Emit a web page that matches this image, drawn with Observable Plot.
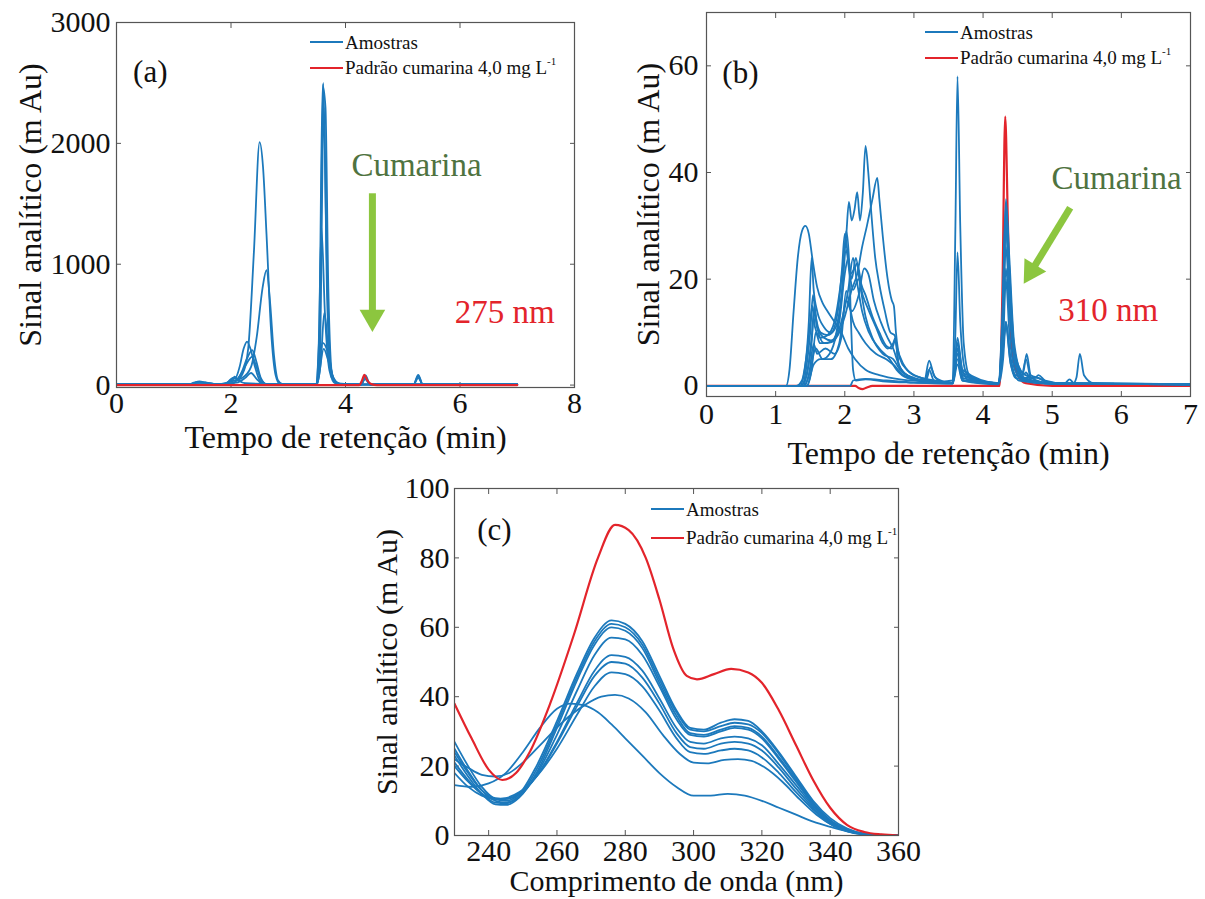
<!DOCTYPE html>
<html><head><meta charset="utf-8">
<script src="https://cdn.jsdelivr.net/npm/d3@7"></script>
<script src="https://cdn.jsdelivr.net/npm/@observablehq/plot@0.6"></script>
<style>
body{margin:0;background:#fff;}
#wrap{position:relative;width:1205px;height:899px;overflow:hidden;background:#fff;font-family:"Liberation Serif","Times New Roman",serif;color:#111;}
.panel{position:absolute;}
.panel text{font-family:"Liberation Serif","Times New Roman",serif !important;}
.leg{position:absolute;display:flex;align-items:center;font-size:19px;line-height:1;white-space:nowrap;}
.leg .sw{display:inline-block;width:33px;height:0;border-top:2.5px solid;margin-right:2px;}
.leg sup{font-size:11px;position:relative;top:-2px;}
</style></head><body><div id="wrap"></div>
<script>
// ---------- colours & font ----------
const blue = "#1c79bc", red = "#e3242b", arrowGreen = "#8cc63f", textGreen = "#4f7340", frameColor = "#555";
const FONT = "Liberation Serif, Times New Roman, serif";

// ---------- ticks & labels ----------
const aXTicks = [0, 2, 4, 6, 8], aYTicks = [0, 1000, 2000, 3000];
const bXTicks = [0, 1, 2, 3, 4, 5, 6, 7], bYTicks = [0, 20, 40, 60];
const cXTicks = [240, 260, 280, 300, 320, 340, 360], cYTicks = [0, 20, 40, 60, 80, 100];
const timeLabel = "Tempo de retenção (min)";
const waveLabel = "Comprimento de onda (nm)";
const signalLabel = "Sinal analítico (m Au)";
const legendSamples = "Amostras";
const legendStandard = "Padrão cumarina 4,0 mg L";

// ---------- panel (a): chromatograms at 275 nm ----------
const aSamples = [
  [[0,5],[1.25,5],[1.35,20],[1.45,30],[1.55,22],[1.7,10],[1.9,8],[2.0,40],[2.08,35],[2.2,90],[2.3,300],[2.4,1100],[2.5,2010],[2.56,1800],[2.62,1250],[2.7,450],[2.78,80],[2.85,10],[3.48,5],[3.54,200],[3.61,2500],[3.67,1100],[3.74,150],[3.85,15],[4.0,5],[4.27,5],[4.34,60],[4.43,5],[5.19,5],[5.27,75],[5.35,5],[7,5]],
  [[0,5],[1.3,5],[1.45,25],[1.6,15],[1.8,8],[2.0,30],[2.2,60],[2.35,150],[2.45,400],[2.55,800],[2.62,950],[2.68,700],[2.75,250],[2.82,40],[2.9,8],[3.48,5],[3.54,400],[3.6,2480],[3.65,2300],[3.7,800],[3.77,80],[3.9,10],[4.27,5],[4.35,80],[4.43,5],[5.19,5],[5.27,85],[5.35,5],[7,5]],
  [[0,5],[1.9,5],[2.0,50],[2.08,60],[2.15,150],[2.22,300],[2.28,360],[2.34,300],[2.42,150],[2.5,40],[2.6,8],[3.48,5],[3.55,200],[3.62,2300],[3.68,700],[3.76,60],[3.9,8],[4.27,5],[4.34,50],[4.43,5],[7,5]],
  [[0,5],[1.95,5],[2.03,60],[2.1,50],[2.18,100],[2.28,220],[2.37,290],[2.44,200],[2.52,60],[2.62,8],[3.48,5],[3.53,300],[3.58,1300],[3.64,600],[3.72,120],[3.82,15],[4.27,5],[4.35,60],[4.43,5],[7,5]],
  [[0,5],[2.0,5],[2.1,40],[2.2,110],[2.3,200],[2.37,235],[2.43,170],[2.52,50],[2.62,8],[3.5,5],[3.57,200],[3.63,600],[3.7,300],[3.79,50],[3.92,5],[7,5]],
  [[0,5],[2.0,5],[2.06,70],[2.13,40],[2.25,15],[3.5,5],[3.6,350],[3.67,300],[3.75,100],[3.86,15],[4.0,5],[7,5]],
  [[0,5],[1.3,5],[1.4,25],[1.55,20],[1.75,8],[2.1,20],[2.25,60],[2.35,100],[2.45,50],[2.55,10],[3.5,5],[3.62,300],[3.7,200],[3.8,40],[3.95,5],[5.19,5],[5.27,60],[5.35,5],[7,5]]
];
const aStandard = [[0,0],[4.24,0],[4.29,40],[4.33,85],[4.38,40],[4.45,8],[4.55,0],[7,0]];
const aNotes = [
  {x: 0.59, y: 2587, text: "(a)", color: "#111", size: 31},
  {x: 5.24, y: 1818, text: "Cumarina", color: textGreen, size: 33},
  {x: 6.78, y: 603, text: "275 nm", color: red, size: 33}
];
const aArrow = [{x1: 4.47, y1: 1587, x2: 4.47, y2: 562, rotate: 180}];

// ---------- panel (b): chromatograms at 310 nm ----------
const bSamples = [
  [[0,0],[1.15,0],[1.2,3],[1.26,14],[1.32,24],[1.38,29],[1.43,30],[1.48,28.5],[1.53,24],[1.6,18.5],[1.68,15.5],[1.75,14],[1.85,12],[1.95,10],[2.05,7],[2.15,5],[2.3,3],[2.5,2],[2.8,1.2],[3.2,0.8],[3.56,0.5],[3.63,6],[3.72,1],[4.22,0.5],[4.29,8],[4.33,11],[4.4,4],[4.52,1],[5.0,0.4],[5.3,0.4],[5.35,1.5],[5.4,6],[5.46,2],[5.6,0.5],[7,0.3]],
  [[0,0],[1.3,0],[1.38,1],[1.45,6],[1.5,12],[1.53,15],[1.57,11],[1.65,9],[1.75,9.5],[1.85,12],[1.95,20],[2.02,28],[2.06,34.5],[2.1,31],[2.14,33],[2.18,36.3],[2.22,31],[2.26,36],[2.3,45],[2.34,40],[2.38,33],[2.44,24],[2.5,19],[2.58,14],[2.66,10],[2.72,9.5],[2.76,7],[2.85,4],[3.0,2],[3.3,1],[3.55,0.5],[3.6,10],[3.63,25],[3.67,12],[3.74,3],[3.85,1],[4.22,0.5],[4.28,12],[4.33,34],[4.38,22],[4.45,7],[4.54,3],[4.58,2.5],[4.63,6],[4.69,2],[4.8,1.5],[5.0,0.5],[7,0.3]],
  [[0,0],[1.35,0],[1.45,2],[1.52,9],[1.56,14],[1.6,11],[1.7,9],[1.8,8.5],[1.9,9.5],[2.0,13],[2.1,18],[2.18,21],[2.25,26],[2.32,30],[2.4,35],[2.47,39],[2.5,35],[2.55,28],[2.62,20],[2.68,16],[2.71,15],[2.74,10],[2.8,5],[2.9,3],[3.1,1.5],[3.4,0.8],[3.56,1],[3.6,30],[3.63,58],[3.67,30],[3.72,8],[3.8,2],[4.0,0.8],[4.22,0.5],[4.28,14],[4.33,35],[4.38,24],[4.45,8],[4.56,2.5],[4.75,1.5],[4.8,2],[4.9,1],[5.2,0.4],[7,0.3]],
  [[0,0],[1.35,0],[1.42,3],[1.48,12],[1.52,24],[1.55,18],[1.6,14],[1.7,11],[1.8,10],[1.9,14],[1.96,22],[2.0,28.5],[2.04,25],[2.08,21],[2.14,22],[2.18,23],[2.24,19],[2.3,17],[2.4,13],[2.5,10],[2.6,7.5],[2.68,7],[2.73,8.5],[2.78,4],[2.9,2],[3.1,1],[3.56,0.5],[3.63,7],[3.7,2],[4.22,0.5],[4.28,10],[4.33,30],[4.38,18],[4.46,5],[4.6,1.5],[5.0,0.4],[7,0.3]],
  [[0,0],[1.38,0],[1.45,4],[1.5,10],[1.54,17],[1.58,13],[1.65,10],[1.75,9.5],[1.85,10.5],[1.95,16],[2.02,25.5],[2.06,22],[2.12,18],[2.2,20],[2.26,17],[2.35,14],[2.45,11],[2.55,8],[2.62,7],[2.7,8],[2.73,9],[2.78,4],[2.9,2],[3.15,1],[3.22,4.7],[3.29,2],[3.4,0.8],[3.56,0.5],[3.63,8],[3.7,3],[3.8,1],[4.22,0.5],[4.28,12],[4.33,32],[4.38,20],[4.46,6],[4.58,2],[4.62,2.5],[4.7,1],[5.0,0.4],[7,0.3]],
  [[0,0],[1.4,0],[1.46,3],[1.52,8],[1.56,15],[1.6,11],[1.7,8],[1.82,8.5],[1.92,12],[2.0,21],[2.05,24],[2.1,20],[2.16,24],[2.22,19],[2.3,13],[2.4,9],[2.55,6],[2.7,5],[2.8,3],[3.0,1.5],[3.3,0.8],[3.56,0.5],[3.63,7],[3.7,2],[4.22,0.5],[4.28,8],[4.33,22],[4.38,14],[4.46,4],[4.6,1.2],[5.0,0.4],[7,0.3]],
  [[0,0],[1.4,0],[1.48,2],[1.55,7.8],[1.6,6],[1.72,7],[1.85,6],[1.95,9],[2.02,17.8],[2.07,15],[2.12,12],[2.2,10],[2.3,8],[2.45,6],[2.6,5],[2.7,4],[2.85,2],[3.1,1],[3.18,1.2],[3.24,3.5],[3.31,1.5],[3.56,0.5],[3.63,8],[3.7,2.5],[4.22,0.5],[4.28,9],[4.33,26],[4.38,16],[4.46,5],[4.56,2],[4.62,5],[4.69,1.5],[5.0,0.4],[7,0.3]],
  [[0,0],[1.45,0],[1.52,3],[1.58,10],[1.64,8],[1.75,8],[1.85,8.5],[1.95,12],[2.05,18],[2.12,24],[2.17,20],[2.25,14],[2.35,10],[2.5,7],[2.65,5],[2.75,3],[2.9,1.5],[3.2,0.8],[3.56,0.5],[3.63,6],[3.7,1.5],[4.22,0.5],[4.29,7],[4.33,12],[4.39,6],[4.47,2],[5.0,0.4],[7,0.3]],
  [[0,0],[1.42,0],[1.5,3],[1.58,7],[1.68,5],[1.78,6],[1.88,10],[1.96,18],[2.02,29],[2.06,24],[2.09,12],[2.12,3],[2.16,1],[2.3,1.2],[2.6,0.8],[3.0,0.6],[3.56,0.4],[3.63,5],[3.7,1],[4.22,0.4],[4.29,8],[4.33,20],[4.38,10],[4.46,3],[4.6,1],[5.0,0.4],[7,0.3]],
  [[0,0],[2.08,0],[2.12,1],[2.3,1.3],[2.6,1],[3.0,0.6],[3.56,0.4],[3.63,4],[3.7,1],[4.22,0.3],[4.29,5],[4.33,12],[4.39,5],[4.47,1.5],[5.18,0.5],[5.25,1.2],[5.32,0.5],[7,0.3]],
  [[0,0],[1.45,0],[1.55,4],[1.65,5],[1.8,5],[1.92,8],[2.02,16],[2.1,14],[2.2,17],[2.28,22],[2.34,21],[2.42,16],[2.52,12],[2.62,9],[2.7,7],[2.78,4],[2.9,2],[3.15,1],[3.22,3],[3.29,1],[3.56,0.5],[3.63,9],[3.7,3],[4.22,0.5],[4.28,10],[4.33,30],[4.38,18],[4.46,5],[4.6,1.5],[4.78,1.5],[4.9,0.8],[5.2,0.4],[7,0.3]]
];
const bStandard = [[0,0],[1.45,0],[2.15,0],[2.2,-0.4],[2.26,-0.6],[2.32,-0.3],[2.4,0],[4.24,0],[4.28,18],[4.32,50.5],[4.36,30],[4.41,8],[4.5,2],[4.62,0.5],[5,0],[7,0]];
const bNotes = [
  {x: 0.49, y: 58.7, text: "(b)", color: "#111", size: 31},
  {x: 5.93, y: 38.8, text: "Cumarina", color: textGreen, size: 33},
  {x: 5.81, y: 14.1, text: "310 nm", color: red, size: 33}
];
const bArrow = [{x1: 5.26, y1: 33.4, x2: 4.70, y2: 21.5, rotate: 211.7}];

// ---------- panel (c): UV spectra ----------
const cSamples = [
  [[230,27],[234,20],[238,14],[242,10.5],[245,10],[249,12],[254,20],[260,33],[266,47],[271,57],[276,62],[280,61],[285,56],[290,46],[295,36],[299,31],[303,30.5],[308,32.5],[312,33.5],[316,33],[320,30],[325,24],[330,17],[335,10],[340,5],[345,2],[350,0.5],[355,0.1],[360,0]],
  [[230,25],[234,18.5],[238,13],[242,10],[245,9.5],[249,11.5],[254,19],[260,32],[266,46],[271,56],[276,61],[280,60],[285,55],[290,45],[295,35.5],[299,30.5],[303,30],[308,31.5],[312,32.5],[316,32],[320,29.5],[325,23.5],[330,16.5],[335,9.5],[340,4.5],[345,1.8],[350,0.5],[355,0.1],[360,0]],
  [[230,23],[234,17],[238,12],[242,9],[245,8.8],[249,11],[254,18],[260,31],[266,45],[271,55],[276,60],[280,59],[285,54],[290,44],[295,34.5],[299,29.5],[303,29],[308,30.5],[312,31.5],[316,31],[320,28.5],[325,22.5],[330,16],[335,9],[340,4.2],[345,1.6],[350,0.4],[355,0.1],[360,0]],
  [[230,21],[234,16],[238,12],[242,9.5],[245,9.3],[249,11.2],[254,17.5],[260,29],[266,42],[271,52],[276,57],[280,56.5],[285,52],[290,43],[295,33.5],[299,29],[303,28.5],[308,30],[312,31],[316,30.5],[320,28],[325,22],[330,15.5],[335,9],[340,4],[345,1.5],[350,0.4],[355,0.1],[360,0]],
  [[230,20],[234,15.5],[238,12],[242,10.5],[245,10.5],[249,12],[254,17],[260,27],[266,38.5],[271,47.5],[276,52],[280,51.5],[285,47.5],[290,39.5],[295,31],[299,27],[303,26.5],[308,28],[312,28.5],[316,28],[320,26],[325,20.5],[330,14.5],[335,8.5],[340,3.8],[345,1.4],[350,0.4],[355,0.1],[360,0]],
  [[230,24],[234,18],[238,13],[242,10.8],[245,10.6],[249,12],[254,17],[260,26.5],[266,37.5],[271,46],[276,50],[280,49.5],[285,45.5],[290,38],[295,29.5],[299,25.5],[303,25],[308,26.5],[312,27],[316,26.5],[320,24.5],[325,19.5],[330,13.5],[335,8],[340,3.5],[345,1.3],[350,0.4],[355,0.1],[360,0]],
  [[230,18],[234,14],[238,11.5],[242,10.5],[245,10.8],[249,12.5],[254,17],[260,25],[266,35],[271,43],[276,47],[280,46.5],[285,43],[290,36],[295,28],[299,24],[303,23.5],[308,24.5],[312,25],[316,24.5],[320,22.5],[325,18],[330,12.5],[335,7.5],[340,3.3],[345,1.2],[350,0.3],[355,0.1],[360,0]],
  [[230,22],[234,19.5],[238,17.5],[242,17],[246,18],[250,21],[256,27],[262,33],[268,37.5],[273,40],[277,40.5],[281,39.5],[286,35.5],[291,29],[296,23.5],[300,21],[304,20.8],[309,21.8],[313,22],[317,21.5],[321,19.5],[326,15.5],[331,10.5],[336,6],[341,2.8],[346,1],[351,0.3],[360,0]],
  [[230,14.5],[235,14],[240,15],[245,18],[250,24],[255,31],[260,36.5],[264,38],[268,37.5],[272,35.5],[276,32],[280,28],[285,23],[290,18],[295,14],[300,11.5],[305,11.5],[310,12],[315,11.5],[320,10],[325,8],[330,6],[335,4],[340,2.5],[345,1.2],[350,0.5],[360,0]]
];
const cStandard = [[230,38],[235,28],[240,19],[244,16],[248,18],[252,24],[258,38],[265,58],[272,80],[277,89.5],[281,88],[286,80],[290,68],[294,54],[298,46],[301,45],[306,46.5],[311,48],[316,47],[320,44],[325,36],[330,26],[335,16],[340,8],[345,3],[350,1],[355,0.3],[360,0]];
const cNotes = [{x: 241.7, y: 87.9, text: "(c)", color: "#111", size: 31}];

// ---------- helpers ----------
const tidy = (series) => series.flatMap((pts, i) => pts.map(([x, y]) => ({x, y, id: i})));
const pts = (arr) => arr.map(([x, y]) => ({x, y}));

function makePanel(cfg) {
  const sampleMark = Plot.line(tidy(cfg.samples), {x: "x", y: "y", z: "id", stroke: blue, strokeWidth: 1.8, curve: cfg.curve, clip: true});
  const standardMark = Plot.line(pts(cfg.standard), {x: "x", y: "y", stroke: red, strokeWidth: 2.2, curve: cfg.curve, clip: true});
  const lines = cfg.redOnTop ? [sampleMark, standardMark] : [standardMark, sampleMark];
  const txt = {fontFamily: FONT, fill: "#111"};
  const marks = [
    Plot.axisX({ticks: cfg.xTicks, tickSize: 0, tickPadding: cfg.xPad, tickFormat: "d", label: null, fontSize: cfg.tickSize, ...txt}),
    Plot.axisX({ticks: cfg.xTicks, tickSize: -5, tickFormat: () => "", label: null, stroke: frameColor}),
    Plot.axisX({anchor: "top", ticks: cfg.xTicks, tickSize: -5, tickFormat: () => "", label: null, stroke: frameColor}),
    Plot.axisY({ticks: cfg.yTicks, tickSize: 0, tickPadding: cfg.yPad, tickFormat: "d", label: null, fontSize: cfg.tickSize, ...txt}),
    Plot.axisY({ticks: cfg.yTicks, tickSize: -5, tickFormat: () => "", label: null, stroke: frameColor}),
    Plot.axisY({anchor: "right", ticks: cfg.yTicks, tickSize: -5, tickFormat: () => "", label: null, stroke: frameColor}),
    ...lines,
    Plot.frame({stroke: frameColor, strokeWidth: 1.2}),
    Plot.text([cfg.xLabel], {text: d => d, frameAnchor: "bottom", dy: cfg.xLabelDy, fontSize: cfg.labelSize, textAnchor: "middle", lineAnchor: "middle", ...txt}),
    Plot.text([signalLabel], {text: d => d, frameAnchor: "left", dx: cfg.yLabelDx, rotate: -90, fontSize: cfg.labelSize, textAnchor: "middle", lineAnchor: "middle", ...txt}),
    Plot.text(cfg.notes, {x: "x", y: "y", text: "text", fill: d => d.color, fontSize: d => d.size, fontFamily: FONT, textAnchor: "middle", lineAnchor: "middle"})
  ];
  if (cfg.arrow) {
    marks.push(Plot.link(cfg.arrow, {x1: "x1", y1: "y1", x2: "x2", y2: "y2", stroke: arrowGreen, strokeWidth: 7}));
    marks.push(Plot.dot(cfg.arrow, {x: "x2", y: "y2", symbol: "triangle", r: 9.5, fill: arrowGreen, stroke: "none", rotate: d => d.rotate}));
  }
  const svg = Plot.plot({
    width: cfg.width, height: cfg.height,
    marginLeft: cfg.m[0], marginRight: cfg.m[1], marginTop: cfg.m[2], marginBottom: cfg.m[3],
    x: {domain: cfg.xDomain}, y: {domain: cfg.yDomain},
    style: {fontFamily: FONT, fontSize: cfg.tickSize + "px", color: "#111", background: "transparent", overflow: "visible"},
    marks
  });
  svg.setAttribute("font-family", FONT);
  svg.classList.add("panel");
  svg.style.left = cfg.left + "px";
  svg.style.top = cfg.top + "px";
  return svg;
}

function legend(left, yBlue, yRed) {
  const frag = document.createDocumentFragment();
  const mk = (y, color, html) => {
    const d = document.createElement("div");
    d.className = "leg";
    d.style.left = left + "px";
    d.style.top = (y - 10) + "px";
    d.style.height = "20px";
    d.innerHTML = `<span class="sw" style="border-color:${color}"></span><span>${html}</span>`;
    frag.appendChild(d);
  };
  mk(yBlue, blue, legendSamples);
  mk(yRed, red, legendStandard + "<sup>-1</sup>");
  return frag;
}

const wrap = document.getElementById("wrap");

wrap.appendChild(makePanel({
  left: 0, top: 0, width: 600, height: 470, m: [116, 26, 22, 83],
  xDomain: [0, 8], yDomain: [-20, 3000], xTicks: aXTicks, yTicks: aYTicks,
  samples: aSamples, standard: aStandard, redOnTop: true, curve: "monotone-x",
  xPad: 4, yPad: 6, tickSize: 30, labelSize: 32, xLabel: timeLabel, xLabelDy: 50, yLabelDx: -86,
  notes: aNotes, arrow: aArrow
}));
wrap.appendChild(makePanel({
  left: 600, top: 0, width: 605, height: 470, m: [106, 15, 12, 74],
  xDomain: [0, 7], yDomain: [-2, 70], xTicks: bXTicks, yTicks: bYTicks,
  samples: bSamples, standard: bStandard, redOnTop: false, curve: "monotone-x",
  xPad: 6, yPad: 8, tickSize: 30, labelSize: 32, xLabel: timeLabel, xLabelDy: 57, yLabelDx: -58,
  notes: bNotes, arrow: bArrow
}));
wrap.appendChild(makePanel({
  left: 360, top: 470, width: 600, height: 429, m: [94, 62, 18, 64],
  xDomain: [230, 360], yDomain: [0, 100], xTicks: cXTicks, yTicks: cYTicks,
  samples: cSamples, standard: cStandard, redOnTop: true, curve: "monotone-x",
  xPad: 4, yPad: 5, tickSize: 30, labelSize: 30, xLabel: waveLabel, xLabelDy: 46, yLabelDx: -67,
  notes: cNotes, arrow: null
}));

wrap.appendChild(legend(310, 42, 68));
wrap.appendChild(legend(925, 32, 58));
wrap.appendChild(legend(651, 509, 538));
</script></body></html>
